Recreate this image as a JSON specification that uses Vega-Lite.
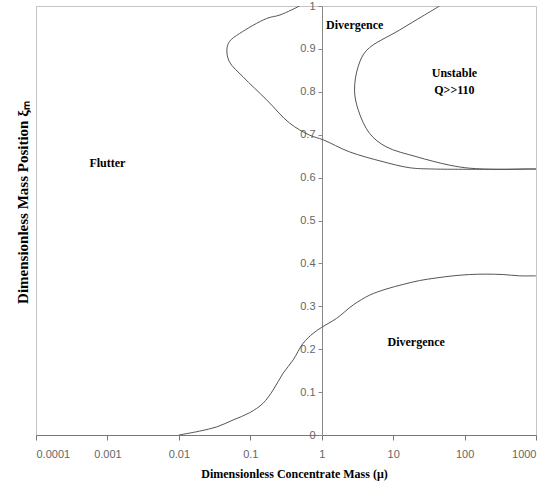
{
  "$schema": "https://vega.github.io/schema/vega-lite/v6.json",
  "autosize": "none",
  "width": 500,
  "height": 429,
  "padding": {"left": 36, "top": 6, "right": 11, "bottom": 47},
  "background": "white",
  "config": {
    "view": {"stroke": "#c4c4c4", "strokeWidth": 1}
  },
  "datasets": {
    "curves": [
      {"s": "a", "i": 0, "mu": 0.01, "y": 0.0},
      {"s": "a", "i": 1, "mu": 0.0195, "y": 0.009},
      {"s": "a", "i": 2, "mu": 0.034, "y": 0.019},
      {"s": "a", "i": 3, "mu": 0.0575, "y": 0.035},
      {"s": "a", "i": 4, "mu": 0.098, "y": 0.052},
      {"s": "a", "i": 5, "mu": 0.151, "y": 0.074},
      {"s": "a", "i": 6, "mu": 0.209, "y": 0.105},
      {"s": "a", "i": 7, "mu": 0.288, "y": 0.144},
      {"s": "a", "i": 8, "mu": 0.398, "y": 0.175},
      {"s": "a", "i": 9, "mu": 0.55, "y": 0.214},
      {"s": "a", "i": 10, "mu": 0.76, "y": 0.237},
      {"s": "a", "i": 11, "mu": 1.0, "y": 0.251},
      {"s": "a", "i": 12, "mu": 1.62, "y": 0.272},
      {"s": "a", "i": 13, "mu": 2.75, "y": 0.303},
      {"s": "a", "i": 14, "mu": 4.68, "y": 0.326},
      {"s": "a", "i": 15, "mu": 7.94, "y": 0.34},
      {"s": "a", "i": 16, "mu": 13.8, "y": 0.351},
      {"s": "a", "i": 17, "mu": 23.4, "y": 0.36},
      {"s": "a", "i": 18, "mu": 39.8, "y": 0.366},
      {"s": "a", "i": 19, "mu": 69.2, "y": 0.371},
      {"s": "a", "i": 20, "mu": 117, "y": 0.374},
      {"s": "a", "i": 21, "mu": 200, "y": 0.375},
      {"s": "a", "i": 22, "mu": 347, "y": 0.374},
      {"s": "a", "i": 23, "mu": 589, "y": 0.371},
      {"s": "a", "i": 24, "mu": 1000, "y": 0.371},
      {"s": "b", "i": 0, "mu": 0.49, "y": 1.0},
      {"s": "b", "i": 1, "mu": 0.26, "y": 0.979},
      {"s": "b", "i": 2, "mu": 0.17, "y": 0.971},
      {"s": "b", "i": 3, "mu": 0.071, "y": 0.936},
      {"s": "b", "i": 4, "mu": 0.051, "y": 0.917},
      {"s": "b", "i": 5, "mu": 0.047, "y": 0.897},
      {"s": "b", "i": 6, "mu": 0.051, "y": 0.87},
      {"s": "b", "i": 7, "mu": 0.079, "y": 0.835},
      {"s": "b", "i": 8, "mu": 0.17, "y": 0.781},
      {"s": "b", "i": 9, "mu": 0.355, "y": 0.727},
      {"s": "b", "i": 10, "mu": 0.676, "y": 0.699},
      {"s": "b", "i": 11, "mu": 1.05, "y": 0.688},
      {"s": "b", "i": 12, "mu": 2.45, "y": 0.66},
      {"s": "b", "i": 13, "mu": 7.24, "y": 0.637},
      {"s": "b", "i": 14, "mu": 17.0, "y": 0.623},
      {"s": "b", "i": 15, "mu": 36.3, "y": 0.62},
      {"s": "b", "i": 16, "mu": 1000, "y": 0.62},
      {"s": "c", "i": 0, "mu": 44.7, "y": 1.0},
      {"s": "c", "i": 1, "mu": 12.3, "y": 0.944},
      {"s": "c", "i": 2, "mu": 4.27, "y": 0.897},
      {"s": "c", "i": 3, "mu": 3.24, "y": 0.859},
      {"s": "c", "i": 4, "mu": 2.88, "y": 0.804},
      {"s": "c", "i": 5, "mu": 3.24, "y": 0.758},
      {"s": "c", "i": 6, "mu": 4.68, "y": 0.703},
      {"s": "c", "i": 7, "mu": 7.94, "y": 0.672},
      {"s": "c", "i": 8, "mu": 20.9, "y": 0.649},
      {"s": "c", "i": 9, "mu": 61.7, "y": 0.629},
      {"s": "c", "i": 10, "mu": 117, "y": 0.622},
      {"s": "c", "i": 11, "mu": 309, "y": 0.619},
      {"s": "c", "i": 12, "mu": 724, "y": 0.62},
      {"s": "c", "i": 13, "mu": 1000, "y": 0.62}
    ],
    "labels": [
      {"label": "Flutter", "mu": 0.001, "y": 0.635},
      {"label": "Divergence", "mu": 2.9, "y": 0.956},
      {"label": "Unstable", "mu": 72, "y": 0.843},
      {"label": "Q>>110", "mu": 72, "y": 0.804},
      {"label": "Divergence", "mu": 21, "y": 0.217}
    ]
  },
  "layer": [
    {
      "data": {"name": "curves"},
      "mark": {"type": "line", "color": "#555555", "strokeWidth": 1, "clip": true, "interpolate": "catmull-rom"},
      "encoding": {
        "x": {
          "field": "mu", "type": "quantitative",
          "scale": {"type": "log", "domain": [0.0001, 1000], "nice": false},
          "axis": {
            "values": [0.0001, 0.001, 0.01, 0.1, 1, 10, 100, 1000],
            "format": "~g",
            "grid": false,
            "domainColor": "#777777",
            "tickColor": "#777777",
            "tickSize": 5,
            "labelPadding": 8,
            "labelFont": "Liberation Sans Narrow, Liberation Sans, sans-serif",
            "labelFontSize": 11,
            "labelColor": "#666666",
            "title": "Dimensionless Concentrate Mass  (μ)",
            "titleFont": "Liberation Serif",
            "titleFontWeight": "bold",
            "titleFontSize": 12,
            "titleColor": "#000000",
            "titleBaseline": "middle",
            "titleY": 38,
            "titleX": 258
          }
        },
        "y": {
          "field": "y", "type": "quantitative",
          "scale": {"domain": [0, 1], "nice": false},
          "axis": {
            "values": [0, 0.1, 0.2, 0.3, 0.4, 0.5, 0.6, 0.7, 0.8, 0.9, 1],
            "format": "~g",
            "grid": false,
            "offset": -286,
            "domainColor": "#888888",
            "tickColor": "#888888",
            "tickSize": 4,
            "labelPadding": 3,
            "labelFont": "Liberation Sans Narrow, Liberation Sans, sans-serif",
            "labelFontSize": 11,
            "labelColor": "#666666",
            "title": "Dimensionless Mass Position    ξₘ",
            "titleFont": "Liberation Serif",
            "titleFontWeight": "bold",
            "titleFontSize": 15,
            "titleColor": "#000000",
            "titleAngle": -90,
            "titleBaseline": "middle",
            "titleAlign": "center",
            "titleX": -300,
            "titleY": 196
          }
        },
        "detail": {"field": "s"},
        "order": {"field": "i", "type": "quantitative"}
      }
    },
    {
      "data": {"name": "labels"},
      "mark": {"type": "text", "font": "Liberation Serif", "fontWeight": "bold", "fontSize": 12, "color": "#000000", "align": "center", "baseline": "middle"},
      "encoding": {
        "x": {"field": "mu", "type": "quantitative"},
        "y": {"field": "y", "type": "quantitative"},
        "text": {"field": "label"}
      }
    }
  ]
}
